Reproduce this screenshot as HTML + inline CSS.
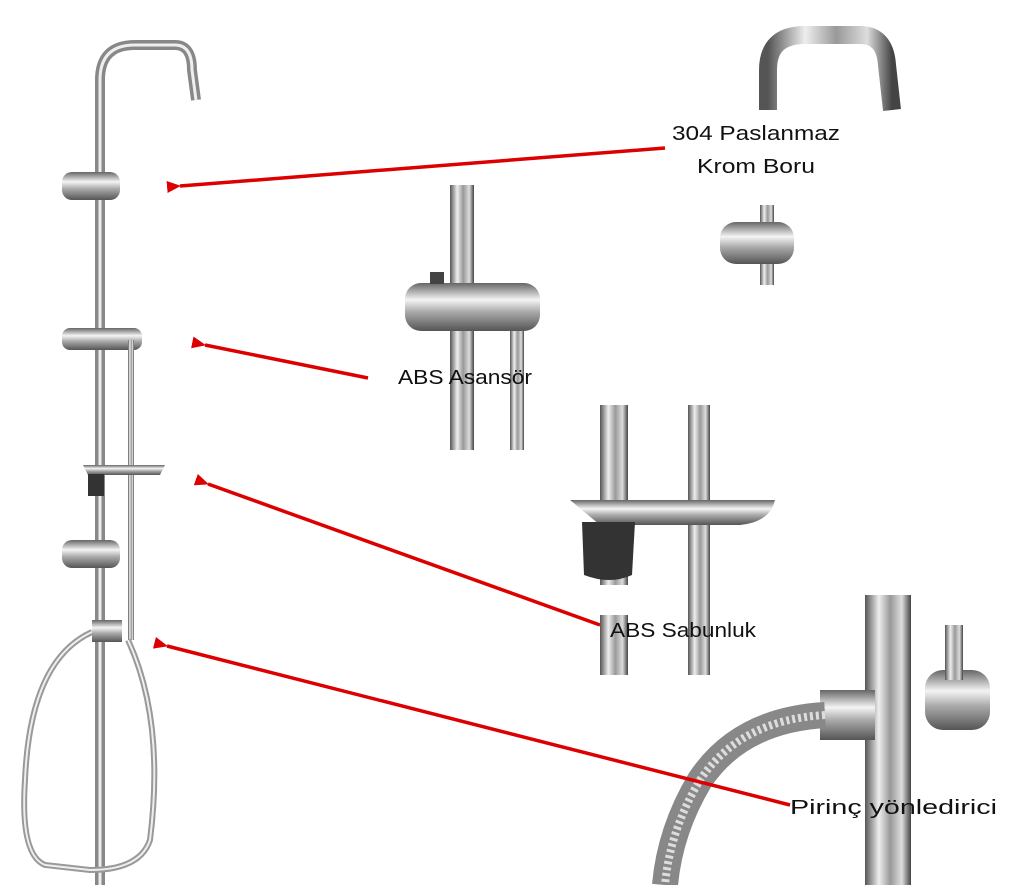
<!DOCTYPE html>
<html><head><meta charset="utf-8"><style>
html,body{margin:0;padding:0;background:#fff;width:1024px;height:885px;overflow:hidden}
svg{display:block}
text{font-family:"Liberation Sans",sans-serif;font-size:20px;fill:#111}
</style></head><body>
<svg width="1024" height="885" viewBox="0 0 1024 885" xmlns="http://www.w3.org/2000/svg">
<defs>
<linearGradient id="ch" x1="0" x2="1" y1="0" y2="0">
<stop offset="0" stop-color="#555"/><stop offset="0.3" stop-color="#eee"/><stop offset="0.55" stop-color="#999"/><stop offset="0.8" stop-color="#ddd"/><stop offset="1" stop-color="#444"/></linearGradient>
<linearGradient id="cv" x1="0" x2="0" y1="0" y2="1">
<stop offset="0" stop-color="#666"/><stop offset="0.35" stop-color="#f4f4f4"/><stop offset="0.6" stop-color="#aaa"/><stop offset="1" stop-color="#555"/></linearGradient>
<marker id="ah" markerWidth="14" markerHeight="12" refX="1" refY="6" orient="auto" markerUnits="userSpaceOnUse"><path d="M14,0 L0,6 L14,12 z" fill="#d00"/></marker>
</defs>
<path d="M100,885 L100,80 Q100,45 135,45 L175,45 Q192,45 192,70 L196,100" fill="none" stroke="#888" stroke-width="10"/>
<path d="M100,885 L100,80 Q100,45 135,45 L175,45 Q192,45 192,70 L196,100" fill="none" stroke="#eee" stroke-width="3"/>
<rect x="62" y="172" width="58" height="28" rx="10" fill="url(#cv)"/>
<rect x="62" y="328" width="80" height="22" rx="8" fill="url(#cv)"/>
<rect x="128" y="340" width="6" height="300" fill="url(#ch)"/>
<path d="M83,465 L165,465 L160,475 L88,475 z" fill="url(#cv)"/>
<rect x="88" y="474" width="16" height="22" fill="#333"/>
<rect x="62" y="540" width="58" height="28" rx="10" fill="url(#cv)"/>
<rect x="92" y="620" width="30" height="22" fill="url(#cv)"/>
<path d="M128,640 Q165,720 150,840 Q140,870 90,870 L45,865 Q20,855 25,780 Q30,660 92,632" fill="none" stroke="#999" stroke-width="6"/>
<path d="M128,640 Q165,720 150,840 Q140,870 90,870 L45,865 Q20,855 25,780 Q30,660 92,632" fill="none" stroke="#eee" stroke-width="2"/>
<path d="M768,110 L768,70 Q768,35 805,35 L860,35 Q885,35 887,65 L892,110" fill="none" stroke="url(#ch)" stroke-width="18"/>
<rect x="760" y="205" width="14" height="80" fill="url(#ch)"/>
<rect x="720" y="222" width="74" height="42" rx="16" fill="url(#cv)"/>
<rect x="450" y="185" width="24" height="265" fill="url(#ch)"/>
<rect x="510" y="300" width="14" height="150" fill="url(#ch)"/>
<rect x="405" y="283" width="135" height="48" rx="16" fill="url(#cv)"/>
<rect x="430" y="272" width="14" height="12" fill="#444"/>
<rect x="600" y="405" width="28" height="270" fill="url(#ch)"/>
<rect x="688" y="405" width="22" height="270" fill="url(#ch)"/>
<path d="M570,500 L775,500 Q770,522 740,525 L600,525 Z" fill="url(#cv)"/>
<path d="M582,522 L635,522 L632,575 Q610,585 584,575 z" fill="#333"/>
<rect x="585" y="585" width="60" height="30" fill="#fff"/>
<rect x="865" y="595" width="46" height="290" fill="url(#ch)"/>
<rect x="925" y="670" width="65" height="60" rx="18" fill="url(#cv)"/>
<rect x="945" y="625" width="18" height="55" fill="url(#ch)"/>
<rect x="820" y="690" width="55" height="50" fill="url(#cv)"/>
<path d="M825,715 Q740,720 700,780 Q670,830 665,885" fill="none" stroke="#888" stroke-width="26"/>
<path d="M825,715 Q740,720 700,780 Q670,830 665,885" fill="none" stroke="#ddd" stroke-width="8" stroke-dasharray="3 3"/>
<g stroke="#d00" stroke-width="3.5" fill="none">
<line x1="665" y1="148" x2="180" y2="186" marker-end="url(#ah)"/>
<line x1="368" y1="378" x2="205" y2="345" marker-end="url(#ah)"/>
<line x1="600" y1="625" x2="208" y2="484" marker-end="url(#ah)"/>
<line x1="790" y1="805" x2="167" y2="646" marker-end="url(#ah)"/>
</g>
<text x="672" y="140" textLength="168" lengthAdjust="spacingAndGlyphs">304 Paslanmaz</text>
<text x="697" y="173" textLength="118" lengthAdjust="spacingAndGlyphs">Krom Boru</text>
<text x="398" y="384" textLength="134" lengthAdjust="spacingAndGlyphs">ABS Asansör</text>
<text x="610" y="637" textLength="146" lengthAdjust="spacingAndGlyphs">ABS Sabunluk</text>
<text x="790" y="814" textLength="207" lengthAdjust="spacingAndGlyphs">Pirinç yönledirici</text>
</svg>
</body></html>
